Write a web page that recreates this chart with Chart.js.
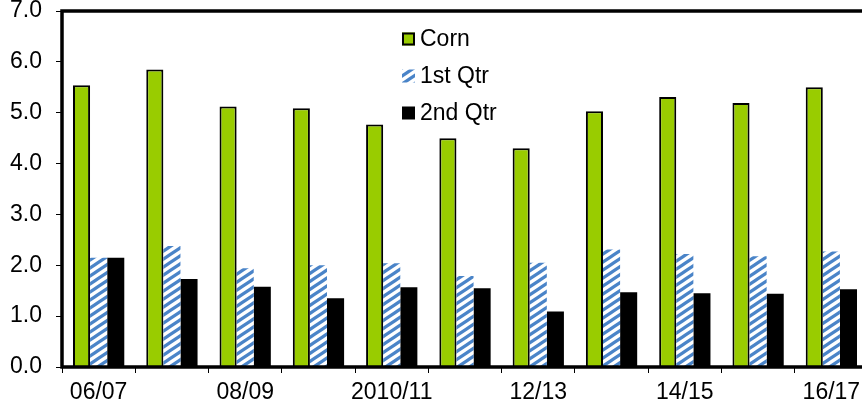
<!DOCTYPE html>
<html><head><meta charset="utf-8">
<script src="https://cdn.jsdelivr.net/npm/chart.js@4.4.1/dist/chart.umd.min.js"></script>
<style>
html,body{margin:0;padding:0;overflow:hidden;background:#fff;}
#wrap{width:880px;height:408px;position:relative;}
</style></head>
<body><div id="wrap"><canvas id="c"></canvas></div>
<script>
const categories = ['06/07','07/08','08/09','09/10','2010/11','11/12','12/13','13/14','14/15','15/16','16/17'];
const cornValues = [5.54,5.85,5.12,5.09,4.77,4.50,4.30,5.03,5.31,5.19,5.50];
const q1Values   = [2.15,2.38,1.94,2.00,2.04,1.79,2.05,2.31,2.22,2.18,2.27];
const q2Values   = [2.15,1.73,1.58,1.35,1.57,1.55,1.09,1.47,1.45,1.44,1.53];
const yTicks = [0,1,2,3,4,5,6,7];

function makeHatch(){
  const W = 12, H = 8;
  const t = document.createElement('canvas');
  t.width = W; t.height = H;
  const g = t.getContext('2d');
  g.fillStyle = '#fff'; g.fillRect(0,0,W,H);
  g.strokeStyle = '#4a84c8'; g.lineWidth = 3.2;
  g.beginPath();
  for (let k=-1;k<=1;k++){
    const x0 = -3, x1 = W+3;
    g.moveTo(x0, H - (H/W)*x0 + H*k);
    g.lineTo(x1, H - (H/W)*x1 + H*k);
  }
  g.stroke();
  return document.getElementById('c').getContext('2d').createPattern(t,'repeat');
}
const hatch = makeHatch();
const FONT = "'Liberation Sans', Arial, sans-serif";

const framePlugin = {
  id:'frame',
  afterDatasetsDraw(chart){
    const {ctx, chartArea:a} = chart;
    ctx.save();
    ctx.strokeStyle = '#000'; ctx.lineWidth = 3.5;
    ctx.beginPath();
    ctx.moveTo(a.right+5, a.top); ctx.lineTo(a.left, a.top); ctx.lineTo(a.left, a.bottom); ctx.lineTo(a.right+5, a.bottom);
    ctx.stroke();
    ctx.restore();
  }
};
const legendPlugin = {
  id:'customLegend',
  afterDraw(chart){
    const ctx = chart.ctx;
    const x = 402, ys = [39, 76, 113], s = 13;
    ctx.save();
    ctx.font = "23px " + FONT;
    ctx.textBaseline = 'middle';
    chart.data.datasets.forEach((ds,i)=>{
      const y = ys[i];
      ctx.fillStyle = ds.backgroundColor;
      ctx.fillRect(x, y - s/2, s, s);
      if (ds.borderWidth){ ctx.strokeStyle='#000'; ctx.lineWidth=2; ctx.strokeRect(x+1, y - s/2 + 1, s-2, s-2); }
      ctx.fillStyle = '#000';
      ctx.fillText(ds.label, x + s + 5, y + 1);
    });
    ctx.restore();
  }
};

new Chart(document.getElementById('c'), {
  type:'bar',
  data:{
    labels: categories,
    datasets:[
      {label:'Corn', data: cornValues, backgroundColor:'#99cc00', borderColor:'#000', borderWidth:2},
      {label:'1st Qtr', data: q1Values, backgroundColor: hatch, borderWidth:0},
      {label:'2nd Qtr', data: q2Values, backgroundColor:'#000', borderWidth:0}
    ]
  },
  options:{
    responsive:true, maintainAspectRatio:false, animation:false,
    layout:{padding:{top:11, right:12, left:0, bottom:0}},
    plugins:{legend:{display:false}, tooltip:{enabled:false}},
    datasets:{bar:{categoryPercentage:0.70, barPercentage:1.0}},
    scales:{
      x:{
        grid:{offset:true, drawOnChartArea:false, drawTicks:true, tickLength:6, color:'#000', lineWidth:1},
        border:{display:false},
        ticks:{autoSkip:false, maxRotation:0, padding:6, color:'#000', font:{family:FONT, size:23},
          callback:(v,i)=> i%2===0 ? categories[i] : ''},
        afterFit(s){ s.height = 41; s.paddingLeft = 0; s.paddingRight = 0; }
      },
      y:{
        min:0, max:7,
        afterBuildTicks(s){ s.ticks = yTicks.map(v=>({value:v})); },
        grid:{drawOnChartArea:false, drawTicks:true, tickLength:6, color:'#000', lineWidth:1},
        border:{display:false},
        ticks:{padding:14, color:'#000', font:{family:FONT, size:23}, callback:v=>Number(v).toFixed(1)},
        afterFit(s){ s.width = 62; s.paddingTop = 0; s.paddingBottom = 0; }
      }
    }
  },
  plugins:[framePlugin, legendPlugin]
});
</script></body></html>
